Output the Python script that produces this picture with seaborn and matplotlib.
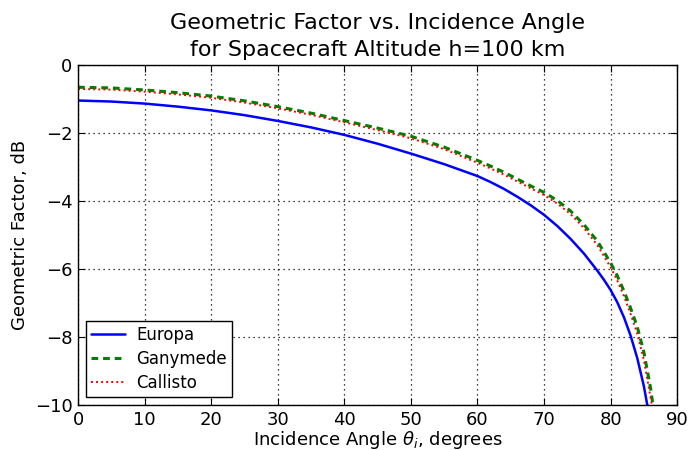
import numpy as np
import pandas as pd
import matplotlib
matplotlib.use("Agg")
import matplotlib.pyplot as plt
import seaborn as sns

# values (incidence angle in degrees, factor in dB)
europa_angle = [0, 5, 10, 15, 20, 25, 30, 35, 40, 45, 50, 55, 60, 62, 64, 66,
                68, 70, 72, 74, 76, 78, 79, 80, 81, 82, 83, 84, 85, 85.6]
europa_db = [-1.05, -1.08, -1.14, -1.23, -1.34, -1.48, -1.65, -1.84, -2.06,
             -2.32, -2.61, -2.92, -3.27, -3.45, -3.65, -3.88, -4.13, -4.41,
             -4.74, -5.12, -5.55, -6.05, -6.32, -6.62, -6.98, -7.42, -7.96,
             -8.62, -9.45, -10.1]

ganymede_angle = [0, 5, 10, 15, 20, 25, 30, 35, 40, 45, 50, 55, 60, 62, 64,
                  66, 68, 70, 72, 74, 76, 78, 80, 81, 82, 83, 84, 85, 86, 86.5]
ganymede_db = [-0.66, -0.68, -0.74, -0.82, -0.92, -1.06, -1.23, -1.42, -1.64,
               -1.86, -2.10, -2.42, -2.81, -2.98, -3.16, -3.36, -3.56, -3.75,
               -3.99, -4.30, -4.70, -5.18, -5.82, -6.20, -6.65, -7.15, -7.70,
               -8.45, -9.50, -10.2]

callisto_angle = [0, 5, 10, 15, 20, 25, 30, 35, 40, 45, 50, 55, 60, 62, 64,
                  66, 68, 70, 72, 74, 76, 78, 80, 81, 82, 83, 84, 85, 86, 86.4]
callisto_db = [-0.71, -0.73, -0.79, -0.87, -0.97, -1.11, -1.28, -1.47, -1.69,
               -1.92, -2.16, -2.48, -2.88, -3.05, -3.23, -3.43, -3.63, -3.83,
               -4.08, -4.39, -4.80, -5.30, -5.95, -6.34, -6.80, -7.32, -7.90,
               -8.68, -9.78, -10.2]

sns.set_style("ticks")
plt.rcParams['font.family'] = ['DejaVu Sans']
plt.rcParams['mathtext.fontset'] = 'dejavusans'
for k in ['text.color', 'axes.labelcolor', 'xtick.color', 'ytick.color']:
    plt.rcParams[k] = 'black'

fig = plt.figure(figsize=(6.91, 4.5), dpi=100)
ax = fig.add_axes([0.113, 0.1, 0.867, 0.756])

sns.lineplot(x=europa_angle, y=europa_db, ax=ax, color='blue', lw=1.8,
             linestyle='-', label='Europa')
sns.lineplot(x=ganymede_angle, y=ganymede_db, ax=ax, color='green', lw=2.2,
             linestyle=(0, (2.2, 1.6)), label='Ganymede')
sns.lineplot(x=callisto_angle, y=callisto_db, ax=ax, color='red', lw=1.4,
             linestyle=(0, (1, 1.6)), label='Callisto')

ax.set_xlim(0, 90)
ax.set_ylim(-10, 0)
ax.set_xticks(range(0, 91, 10))
ax.set_yticks(range(-10, 1, 2))
ax.grid(True, color='black', linestyle=(0, (1, 3)), linewidth=0.9)
ax.tick_params(direction='in', top=True, right=True, labelsize=13,
               length=5, pad=4)
for s in ax.spines.values():
    s.set_color('black')
    s.set_linewidth(1)

ax.set_title('Geometric Factor vs. Incidence Angle\nfor Spacecraft Altitude h=100 km',
             fontsize=16, pad=6, linespacing=1.45)
ax.set_xlabel(r'Incidence Angle $\theta_i$, degrees', fontsize=13, labelpad=0)
ax.set_ylabel('Geometric Factor, dB', fontsize=13)

leg = ax.legend(loc='lower left', fontsize=12, fancybox=False, framealpha=1,
                edgecolor='black', handlelength=2.0, handletextpad=0.7,
                labelspacing=0.35, borderpad=0.3, borderaxespad=0.5)
leg.get_frame().set_linewidth(1)

fig.savefig('out.png', dpi=100)
